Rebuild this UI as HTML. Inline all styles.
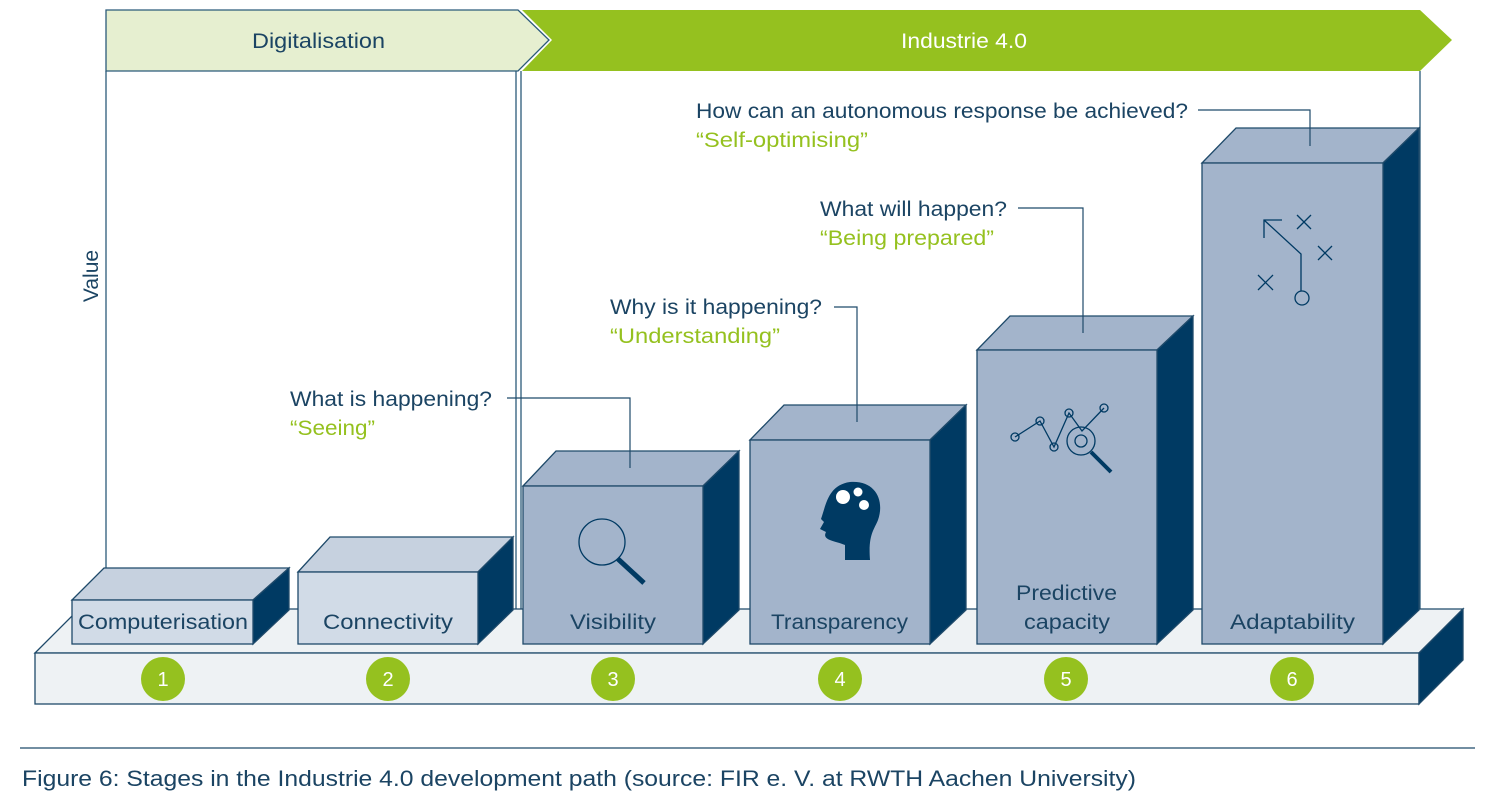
<!DOCTYPE html>
<html><head><meta charset="utf-8"><style>
body{margin:0;background:#fff}
svg{display:block;font-family:"Liberation Sans",sans-serif}
</style></head><body>
<svg width="1485" height="805" viewBox="0 0 1485 805" xmlns="http://www.w3.org/2000/svg">
<g stroke="#2b5a7a" stroke-width="1.3" fill="none">
<line x1="106" y1="71" x2="106" y2="600"/>
<line x1="516" y1="71" x2="516" y2="609"/>
<line x1="521" y1="71" x2="521" y2="609"/>
<line x1="1420" y1="71" x2="1420" y2="609"/>
</g>
<polygon points="106,10 518,10 549,40 518,71 106,71" fill="#e6efd0" stroke="#2b5a7a" stroke-width="1.3"/>
<polygon points="522,10 1420,10 1452,40 1420,71 522,71 552,40" fill="#95c11f"/>
<text x="252" y="48" font-size="21" fill="#1b4463" textLength="133" lengthAdjust="spacingAndGlyphs">Digitalisation</text>
<text x="901" y="48" font-size="21" fill="#fff" textLength="126" lengthAdjust="spacingAndGlyphs">Industrie 4.0</text>

<g stroke="#1f4a6a" stroke-width="1.3">
<polygon points="35,653 79,609 1463,609 1419,653" fill="#eef2f4"/>
<rect x="35" y="653" width="1384" height="51" fill="#eef2f4"/>
<polygon points="1419,653 1463,609 1463,660 1419,704" fill="#003a63"/>
</g>

<g stroke="#1f4a6a" stroke-width="1.3">
<polygon points="72,600 104,568 289,568 253,600" fill="#c6d1df"/>
<polygon points="253,600 289,568 289,610 253,644" fill="#003a63"/>
<rect x="72" y="600" width="181" height="44" fill="#d1dbe7"/>
<polygon points="298,572 330,537 513,537 478,572" fill="#c6d1df"/>
<polygon points="478,572 513,537 513,610 478,644" fill="#003a63"/>
<rect x="298" y="572" width="180" height="72" fill="#d1dbe7"/>
<polygon points="523,486 556,451 739,451 703,486" fill="#a3b4cb"/>
<polygon points="703,486 739,451 739,610 703,644" fill="#003a63"/>
<rect x="523" y="486" width="180" height="158" fill="#a3b4cb"/>
<polygon points="750,440 784,405 966,405 930,440" fill="#a3b4cb"/>
<polygon points="930,440 966,405 966,610 930,644" fill="#003a63"/>
<rect x="750" y="440" width="180" height="204" fill="#a3b4cb"/>
<polygon points="977,350 1010,316 1193,316 1157,350" fill="#a3b4cb"/>
<polygon points="1157,350 1193,316 1193,610 1157,644" fill="#003a63"/>
<rect x="977" y="350" width="180" height="294" fill="#a3b4cb"/>
<polygon points="1202,163 1236,128 1419,128 1383,163" fill="#a3b4cb"/>
<polygon points="1383,163 1419,128 1419,610 1383,644" fill="#003a63"/>
<rect x="1202" y="163" width="181" height="481" fill="#a3b4cb"/>
</g>

<g font-size="21" fill="#1b4463" lengthAdjust="spacingAndGlyphs">
<text x="78" y="629" textLength="170" lengthAdjust="spacingAndGlyphs">Computerisation</text>
<text x="323" y="629" textLength="130" lengthAdjust="spacingAndGlyphs">Connectivity</text>
<text x="570" y="629" textLength="86" lengthAdjust="spacingAndGlyphs">Visibility</text>
<text x="771" y="629" textLength="137" lengthAdjust="spacingAndGlyphs">Transparency</text>
<text x="1016" y="600" textLength="101" lengthAdjust="spacingAndGlyphs">Predictive</text>
<text x="1024" y="629" textLength="86" lengthAdjust="spacingAndGlyphs">capacity</text>
<text x="1230" y="629" textLength="125" lengthAdjust="spacingAndGlyphs">Adaptability</text>
</g>

<g fill="#95c11f">
<circle cx="163" cy="679" r="22"/><circle cx="388" cy="679" r="22"/><circle cx="613" cy="679" r="22"/>
<circle cx="840" cy="679" r="22"/><circle cx="1066" cy="679" r="22"/><circle cx="1292" cy="679" r="22"/>
</g>
<g font-size="20" fill="#fff" text-anchor="middle">
<text x="163" y="686">1</text><text x="388" y="686">2</text><text x="613" y="686">3</text>
<text x="840" y="686">4</text><text x="1066" y="686">5</text><text x="1292" y="686">6</text>
</g>

<g stroke="#003a63" fill="none">
<circle cx="602" cy="542" r="23" stroke-width="1.3"/>
<line x1="618" y1="559" x2="644" y2="583" stroke-width="5"/>
<polyline points="1015,437 1040,421 1054,447 1069,413 1082,431 1104,408" stroke-width="1.3"/>
<circle cx="1015" cy="437" r="4" stroke-width="1.3"/><circle cx="1040" cy="421" r="4" stroke-width="1.3"/>
<circle cx="1054" cy="447" r="4" stroke-width="1.3"/><circle cx="1069" cy="413" r="4" stroke-width="1.3"/>
<circle cx="1104" cy="408" r="4" stroke-width="1.3"/>
<circle cx="1081" cy="441" r="14" stroke-width="1.3"/><circle cx="1081" cy="441" r="6" stroke-width="1.3"/>
<line x1="1091" y1="452" x2="1111" y2="472" stroke-width="4"/>
<polyline points="1264,238 1264,220 1282,220" stroke-width="1.3"/>
<polyline points="1264,220 1301,254 1301,291" stroke-width="1.3"/>
<circle cx="1302" cy="298" r="7" stroke-width="1.3"/>
<path d="M1297,215 l14,14 M1311,215 l-14,14 M1318,246 l14,14 M1332,246 l-14,14 M1258,275 l15,15 M1273,275 l-15,15" stroke-width="1.3"/>
</g>
<path d="M845,560 L845,545 C832,540 822,540 826,532 L820,529 L824,522 L821,519 C826,505 828,485 850,482 C875,480 885,500 878,520 C874,530 868,535 870,560 Z" fill="#003a63"/>
<g fill="#fff">
<circle cx="843" cy="497" r="7"/><circle cx="858" cy="492" r="4.5"/><circle cx="864" cy="505" r="5"/>
</g>

<g stroke="#1f4a6a" stroke-width="1.2" fill="none">
<polyline points="1198,110 1310,110 1310,146"/>
<polyline points="1018,208 1083,208 1083,333"/>
<polyline points="834,307 857,307 857,422"/>
<polyline points="507,398 630,398 630,468"/>
</g>
<g font-size="21">
<text x="696" y="118" fill="#1b4463" textLength="492" lengthAdjust="spacingAndGlyphs">How can an autonomous response be achieved?</text>
<text x="696" y="147" fill="#95c11f" textLength="172" lengthAdjust="spacingAndGlyphs">“Self-optimising”</text>
<text x="820" y="216" fill="#1b4463" textLength="187" lengthAdjust="spacingAndGlyphs">What will happen?</text>
<text x="820" y="245" fill="#95c11f" textLength="174" lengthAdjust="spacingAndGlyphs">“Being prepared”</text>
<text x="610" y="314" fill="#1b4463" textLength="212" lengthAdjust="spacingAndGlyphs">Why is it happening?</text>
<text x="610" y="343" fill="#95c11f" textLength="170" lengthAdjust="spacingAndGlyphs">“Understanding”</text>
<text x="290" y="406" fill="#1b4463" textLength="202" lengthAdjust="spacingAndGlyphs">What is happening?</text>
<text x="290" y="435" fill="#95c11f" textLength="85" lengthAdjust="spacingAndGlyphs">“Seeing”</text>
</g>
<text transform="translate(98,276) rotate(-90)" text-anchor="middle" font-size="21" fill="#1b4463">Value</text>

<line x1="20" y1="748" x2="1475" y2="748" stroke="#1f4a6a" stroke-width="1.2"/>
<text x="22" y="786" font-size="22" fill="#1b4463" textLength="1114" lengthAdjust="spacingAndGlyphs">Figure 6: Stages in the Industrie 4.0 development path (source: FIR e. V. at RWTH Aachen University)</text>
</svg>
</body></html>
